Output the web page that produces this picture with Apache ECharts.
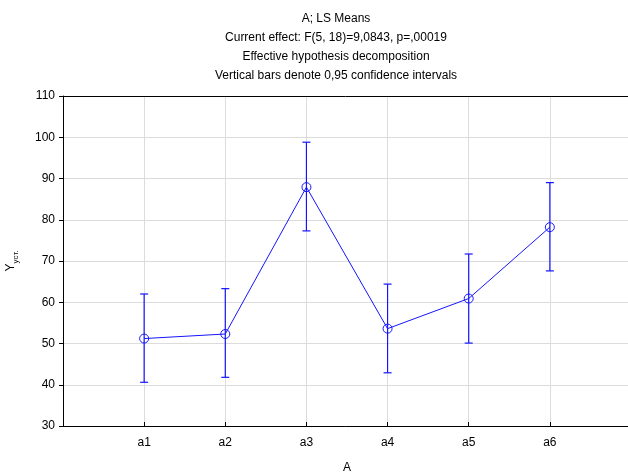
<!DOCTYPE html>
<html>
<head>
<meta charset="utf-8">
<script src="https://cdn.jsdelivr.net/npm/echarts@6/dist/echarts.min.js"></script>
<style>
html,body{margin:0;padding:0;background:#fff;}
#chart{width:628px;height:473px;}
</style>
</head>
<body>
<div id="chart"></div>
<script>
var categories = ['a1', 'a2', 'a3', 'a4', 'a5', 'a6'];
var means = [51.2, 52.3, 87.9, 53.6, 60.9, 78.2];
var lower = [40.6, 41.8, 77.3, 42.9, 50.1, 67.6];
var upper = [62.0, 63.3, 98.8, 64.4, 71.7, 89.0];
var titleLines = [
  'A; LS Means',
  'Current effect: F(5, 18)=9,0843, p=,00019',
  'Effective hypothesis decomposition',
  'Vertical bars denote 0,95 confidence intervals'
];

var blue = '#1414ff';
var font = 'Liberation Sans, Arial, sans-serif';

var lineData = means.map(function (v, i) { return [i + 1, v]; });
var barData = means.map(function (v, i) { return [i + 1, lower[i], upper[i]]; });

var myChart = echarts.init(document.getElementById('chart'));
var option = {
  animation: false,
  textStyle: { fontFamily: font },
  title: {
    text: titleLines.join('\n'),
    left: 331,
    textAlign: 'center',
    top: 4,
    textStyle: {
      fontFamily: font,
      fontSize: 12,
      fontWeight: 'normal',
      color: '#000',
      lineHeight: 19
    }
  },
  grid: { left: 63, right: -3, top: 96, bottom: 47, show: false, containLabel: false, outerBoundsMode: 'none' },
  xAxis: {
    type: 'value',
    min: 0,
    max: 7,
    interval: 1,
    name: 'A',
    nameLocation: 'middle',
    nameGap: 36,
    nameTextStyle: { color: '#000', fontSize: 12, fontFamily: font },
    axisLine: { show: true, lineStyle: { color: '#000', width: 1 } },
    axisTick: { show: true, inside: true, length: 4, lineStyle: { color: '#000' } },
    axisLabel: {
      color: '#000',
      fontSize: 12,
      margin: 11,
      formatter: function (v) { return categories[v - 1] || ''; }
    },
    splitLine: { show: true, lineStyle: { color: '#dcdcdc', width: 1 } }
  },
  yAxis: {
    type: 'value',
    min: 30,
    max: 110,
    interval: 10,
    name: '{a|Y}{b|уст.}',
    nameLocation: 'middle',
    nameRotate: 90,
    nameGap: 46,
    nameTextStyle: {
      rich: {
        a: { fontSize: 12, color: '#000', fontFamily: font, lineHeight: 14, verticalAlign: 'bottom' },
        b: { fontSize: 8, color: '#000', fontFamily: font, lineHeight: 14, verticalAlign: 'bottom', padding: [0, 0, -3, 0] }
      }
    },
    axisLine: { show: true, lineStyle: { color: '#000', width: 1 } },
    axisTick: { show: true, length: 4, lineStyle: { color: '#000' } },
    axisLabel: { color: '#000', fontSize: 12, margin: 8 },
    splitLine: { show: true, lineStyle: { color: '#dcdcdc', width: 1 } }
  },
  series: [
    {
      type: 'custom',
      data: barData,
      renderItem: function (params, api) {
        var x = api.value(0);
        var lo = api.coord([x, api.value(1)]);
        var hi = api.coord([x, api.value(2)]);
        var half = 4;
        var style = { stroke: blue, lineWidth: 1.2 };
        return {
          type: 'group',
          children: [
            { type: 'line', shape: { x1: hi[0], y1: hi[1], x2: lo[0], y2: lo[1] }, style: style },
            { type: 'line', shape: { x1: hi[0] - half, y1: hi[1], x2: hi[0] + half, y2: hi[1] }, style: style },
            { type: 'line', shape: { x1: lo[0] - half, y1: lo[1], x2: lo[0] + half, y2: lo[1] }, style: style }
          ]
        };
      },
      z: 2
    },
    {
      type: 'line',
      data: lineData,
      symbol: 'circle',
      symbolSize: 9,
      lineStyle: { color: blue, width: 1 },
      itemStyle: { color: 'rgba(0,0,0,0)', borderColor: blue, borderWidth: 1 },
      emphasis: { disabled: true },
      z: 3
    }
  ],
  graphic: [
    {
      type: 'line',
      shape: { x1: 63, y1: 96.5, x2: 628, y2: 96.5 },
      style: { stroke: '#000', lineWidth: 1 },
      z: 10
    }
  ]
};
myChart.setOption(option);
</script>
</body>
</html>
